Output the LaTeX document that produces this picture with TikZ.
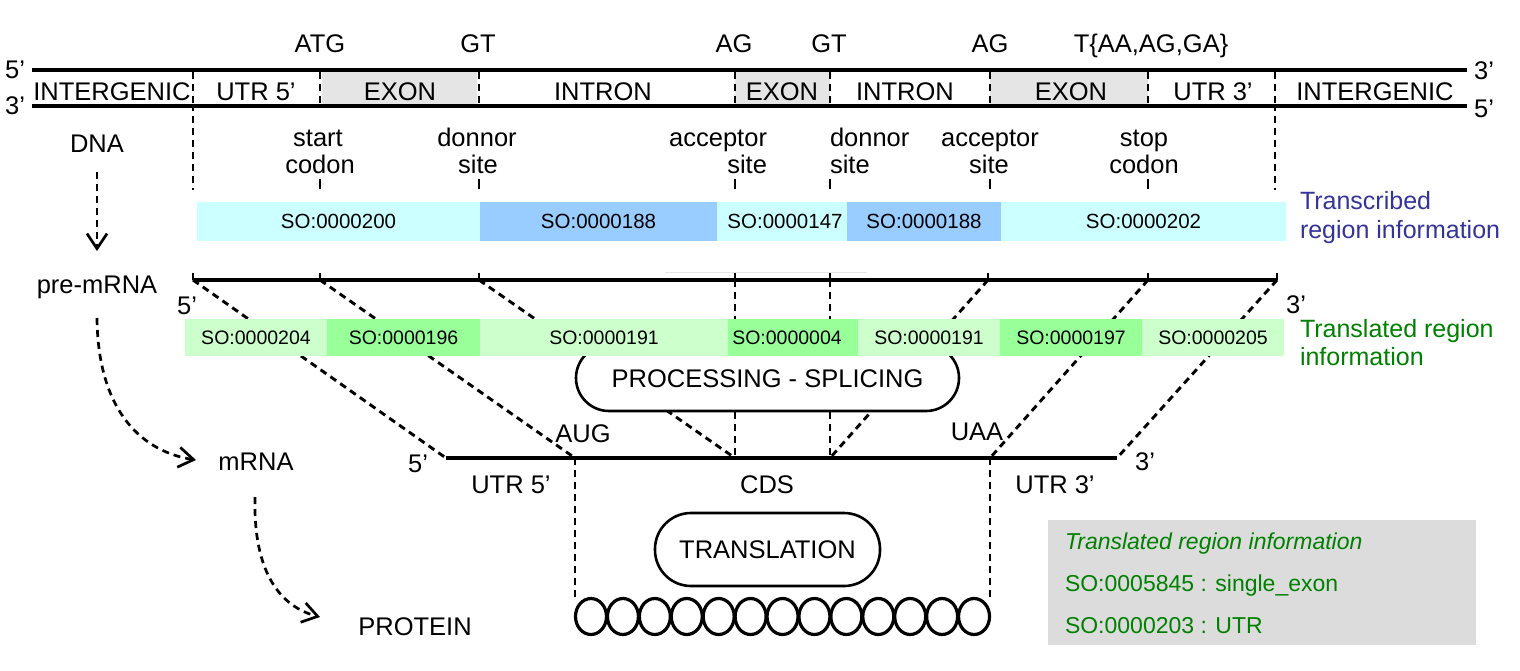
\documentclass[tikz,border=0pt]{standalone}
\usepackage{fontspec}
\setmainfont{Liberation Sans}
\usetikzlibrary{arrows.meta,shapes.geometric}
\definecolor{cyanL}{HTML}{CCFFFF}
\definecolor{blueM}{HTML}{99CCFF}
\definecolor{greenL}{HTML}{CCFFCC}
\definecolor{greenM}{HTML}{99FF99}
\definecolor{exongray}{HTML}{E5E5E5}
\definecolor{leggray}{HTML}{DCDCDC}
\definecolor{txtblue}{HTML}{333399}
\definecolor{txtgreen}{HTML}{008000}
\begin{document}
\begin{tikzpicture}[x=1pt,y=-1pt,
  every node/.style={inner sep=0pt, outer sep=0pt},
  lbl/.style={font=\fontsize{25.5}{29}\selectfont, anchor=base},
  sidelbl/.style={font=\fontsize{25}{29}\selectfont, anchor=base west},
  leglbl/.style={font=\fontsize{23}{27}\selectfont, anchor=base west, text=txtgreen},
  strand/.style={line width=4.2pt},
  dsh/.style={line width=2.9pt, dash pattern=on 7pt off 5pt},
  tick/.style={line width=1.6pt},
  tseg/.style={minimum height=39pt, font=\fontsize{20.5}{24}\selectfont, text height=14.7pt, text depth=0pt},
  gseg/.style={minimum height=37pt, font=\fontsize{19.5}{23}\selectfont, text height=14pt, text depth=0pt},
  pill/.style={draw, line width=2.6pt, fill=white, font=\fontsize{25.5}{29}\selectfont, text height=18.3pt, text depth=0pt},
  arr/.style={line width=2.7pt, dash pattern=on 7pt off 5pt, -{Straight Barb[length=15pt,width=20pt,line width=2.7pt]}},
  bead/.style={draw, line width=3.2pt, ellipse, minimum width=31pt, minimum height=36pt}
]
\useasboundingbox (0,0) rectangle (1520,670);

% ---------- DNA ----------
\fill[exongray] (322,72) rectangle (477,104);
\fill[exongray] (735,72) rectangle (830,104);
\fill[exongray] (990,72) rectangle (1148,104);
\coordinate (sL1) at (32,70);  \coordinate (sR1) at (1467,70);
\coordinate (sL2) at (32,106); \coordinate (sR2) at (1467,106);
\draw[strand] (sL1) -- (sR1);
\draw[strand] (sL2) -- (sR2);

\foreach \x/\n in {193/b0,320/b1,479/b2,735/b3,830/b4,990/b5,1148/b6,1275/b7}{
  \coordinate (\n t) at (\x,72);
  \coordinate (\n b) at (\x,104);
  \draw[dsh,line width=2.7pt] (\n t) -- (\n b);
}
\coordinate (b0e) at (193,190);
\coordinate (b7e) at (1275,190);
\draw[dsh,line width=2.7pt] (b0b) -- (b0e);
\draw[dsh,line width=2.7pt] (b7b) -- (b7e);
\foreach \x/\n in {320/k1,479/k2,735/k3,830/k4,990/k5,1148/k6}{
  \coordinate (\n a) at (\x,179);
  \coordinate (\n b) at (\x,189);
  \draw[line width=2.7pt] (\n a) -- (\n b);
}

\node[lbl] (n5a) at (15,78.5) {5’};
\node[lbl] (n3a) at (15,114.5) {3’};
\node[lbl] (n3b) at (1484,79.5) {3’};
\node[lbl] (n5b) at (1484,117) {5’};

\node[lbl] (atg) at (320,52) {ATG};
\node[lbl] (gt1) at (478,52) {GT};
\node[lbl] (ag1) at (734,52) {AG};
\node[lbl] (gt2) at (829,52) {GT};
\node[lbl] (ag2) at (990,52) {AG};
\node[lbl] (stopc) at (1151,52) {T\{AA,AG,GA\}};

\node[lbl] (r1) at (112,100) {INTERGENIC};
\node[lbl] (r2) at (256,100) {UTR 5’};
\node[lbl] (r3) at (400,100) {EXON};
\node[lbl] (r4) at (603,100) {INTRON};
\node[lbl] (r5) at (782,100) {EXON};
\node[lbl] (r6) at (905,100) {INTRON};
\node[lbl] (r7) at (1071,100) {EXON};
\node[lbl] (r8) at (1213,100) {UTR 3’};
\node[lbl] (r9) at (1375,100) {INTERGENIC};

\node[lbl] (dna) at (97,152) {DNA};
\node[lbl] (sc1) at (318,146) {start};
\node[lbl] (sc2) at (320,173) {codon};
\node[lbl] (ds1) at (477,146) {donnor};
\node[lbl] (ds2) at (478,173) {site};
\node[lbl,anchor=base east] (as1) at (767,146) {acceptor};
\node[lbl,anchor=base east] (as2) at (767,173) {site};
\node[lbl,anchor=base west] (ds3) at (830,146) {donnor};
\node[lbl,anchor=base west] (ds4) at (830,173) {site};
\node[lbl] (as3) at (990,146) {acceptor};
\node[lbl] (as4) at (989,173) {site};
\node[lbl] (st1) at (1144,146) {stop};
\node[lbl] (st2) at (1144,173) {codon};

% ---------- transcribed bar ----------
\node[tseg,fill=cyanL,minimum width=283pt] (t1) at (338.5,221.5) {SO:0000200};
\node[tseg,fill=blueM,minimum width=237pt] (t2) at (598.5,221.5) {SO:0000188};
\node[tseg,fill=cyanL,minimum width=130pt] (t3) at (782,221.5) {\hspace*{6pt}SO:0000147};
\node[tseg,fill=blueM,minimum width=154pt] (t4) at (924,221.5) {SO:0000188};
\node[tseg,fill=cyanL,minimum width=285pt] (t5) at (1143.5,221.5) {SO:0000202};
\node[sidelbl,text=txtblue] (tr1) at (1300,209) {Transcribed};
\node[sidelbl,text=txtblue] (tr2) at (1300,238) {region information};

% ---------- pre-mRNA ----------
\draw[line width=1pt, black!10] (665,272) -- (867,272);
\foreach \x/\n in {193/p0,320/p1,479/p2,735/p3,830/p4,988/p5,1148/p6,1277/p7}{
  \coordinate (\n) at (\x,280);
}
\draw[line width=4.5pt] (p0) -- (p7);
\foreach \n in {p0,p1,p2,p3,p4,p5,p6,p7}{
  \draw[tick] (\n) -- ++(0,-7);
}
\node[lbl] (pre) at (97,293) {pre-mRNA};
\node[lbl] (pre5) at (187,314) {5’};
\node[lbl] (pre3) at (1296,313) {3’};

% ---------- mRNA points ----------
\foreach \x/\n in {446/m0,575/m1,735/m2,830/m3,990/m4,1117/m5}{
  \coordinate (\n) at (\x,458);
}
\draw[dsh] (p0) -- (m0);
\draw[dsh] (p1) -- (m1);
\draw[dsh] (p2) -- (m2);
\draw[dsh] (p3) -- (m2);
\draw[dsh] (p4) -- (m3);
\draw[dsh] (p5) -- (m3);
\draw[dsh] (p6) -- (m4);
\draw[dsh] (p7) -- (m5);

\node[pill, minimum width=383pt, minimum height=66pt, rounded corners=33pt] (proc) at (767.5,378) {PROCESSING - SPLICING};

% ---------- translated bar ----------
\node[gseg,fill=greenL,minimum width=142pt] (g1) at (256,337.5) {SO:0000204};
\node[gseg,fill=greenM,minimum width=153pt] (g2) at (403.5,337.5) {SO:0000196};
\node[gseg,fill=greenL,minimum width=248pt] (g3) at (604,337.5) {SO:0000191};
\node[gseg,fill=greenM,minimum width=130pt] (g4) at (793,337.5) {\hspace*{-12pt}SO:0000004};
\node[gseg,fill=greenL,minimum width=142pt] (g5) at (929,337.5) {SO:0000191};
\node[gseg,fill=greenM,minimum width=142pt] (g6) at (1071,337.5) {SO:0000197};
\node[gseg,fill=greenL,minimum width=142pt] (g7) at (1213,337.5) {SO:0000205};
\node[sidelbl,text=txtgreen] (tl1) at (1300,337) {Translated region};
\node[sidelbl,text=txtgreen] (tl2) at (1300,365) {information};

% ---------- mRNA ----------
\draw[strand] (m0) -- (m5);
\node[lbl] (m5l) at (418,472) {5’};
\node[lbl] (m3l) at (1145,470) {3’};
\node[lbl] (aug) at (583,442) {AUG};
\node[lbl] (uaa) at (977,440) {UAA};
\node[lbl] (u5) at (511,493) {UTR 5’};
\node[lbl] (cds) at (767,493) {CDS};
\node[lbl] (u3) at (1055,493) {UTR 3’};
\node[lbl] (mrna) at (256,470) {mRNA};

% ---------- protein ----------
\coordinate (q1) at (575,598);
\coordinate (q4) at (990,598);
\draw[dsh,line width=2.7pt] (m1) -- (q1);
\draw[dsh,line width=2.7pt] (m4) -- (q4);
\foreach \i in {0,...,12}{
  \node[bead] (c\i) at ({591+\i*31.92},616.5) {};
}
\node[pill, minimum width=225pt, minimum height=73pt, rounded corners=36pt] (transl) at (767.5,549.5) {TRANSLATION};
\node[lbl] (prot) at (415,635) {PROTEIN};

% ---------- flow arrows ----------
\coordinate (a1s) at (97,172);
\coordinate (a1e) at (97,251);
\draw[arr] (a1s) -- (a1e);
\coordinate (a2s) at (97,318);
\coordinate (a2e) at (196,460);
\draw[arr] (a2s) .. controls (98,415) and (145,452) .. (a2e);
\coordinate (a3s) at (255,497);
\coordinate (a3e) at (320,617);
\draw[arr] (a3s) .. controls (253,575) and (282,607) .. (a3e);

% ---------- legend ----------
\node[fill=leggray, minimum width=428pt, minimum height=125pt] (leg) at (1261.5,582.5) {};
\node[leglbl] (lg1) at (1065,549) {\itshape Translated region information};
\node[leglbl] (lg2) at (1065,591) {SO:0005845 : single\_exon};
\node[leglbl] (lg3) at (1065,633) {SO:0000203 : UTR};
\end{tikzpicture}
\end{document}
